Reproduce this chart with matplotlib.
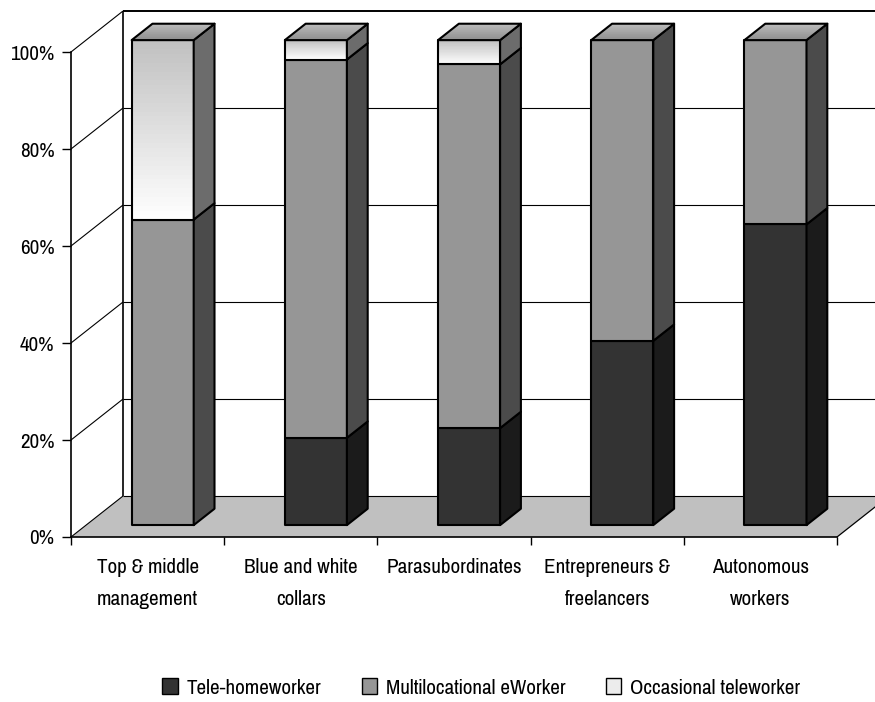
import numpy as np
import matplotlib
matplotlib.use("Agg")
import matplotlib.pyplot as plt
from matplotlib.patches import Polygon, Patch
from matplotlib.lines import Line2D
from matplotlib.colors import to_rgb

plt.rcParams['font.family'] = ['Pragati Narrow', 'Liberation Sans', 'DejaVu Sans']

# ---- data -------------------------------------------------------------
categories = ["Top & middle\nmanagement", "Blue and white\ncollars",
              "Parasubordinates", "Entrepreneurs &\nfreelancers",
              "Autonomous\nworkers"]
tele_homeworker = [0, 18, 20, 38, 62]
multilocational = [63, 78, 75, 62, 38]
occasional = [37, 4, 5, 0, 0]
series_names = ["Tele-homeworker", "Multilocational eWorker", "Occasional teleworker"]
y_ticks = [0, 20, 40, 60, 80, 100]

# ---- styling ------------------------------------------------------------
# front / side / top colours; tuples are (start, end) of a gradient
face_styles = [
    dict(front='#333333', side='#1b1b1b', top=('#222222', '#3a3a3a')),
    dict(front='#969696', side='#4b4b4b', top=('#8c8c8c', '#bcbcbc')),
    dict(front=('#ffffff', '#c0c0c0'), side='#6c6c6c', top=('#8c8c8c', '#bcbcbc')),
]
legend_colors = ['#333333', '#969696', '#ececec']

DX, DY = 0.3394, 8.45      # oblique depth vector (category units, percent units)
D0, D1 = 0.29, 0.69        # depth span occupied by the bars
BAR_W = 0.405
EDGE_LW = 1.5
N_CAT = len(categories)
FS = 16.5

fig = plt.figure(figsize=(8.75, 7.02), dpi=100)
ax = fig.add_axes([71 / 875, 165 / 702, 766 / 875, 485 / 702])
ax.set_xlim(0, N_CAT)
ax.set_ylim(0, 100)
ax.patch.set_alpha(0)


def proj(x, y, d):
    return (x + d * DX, y + d * DY)


def line(pts, lw=0.8, color='black', z=1):
    xs, ys = zip(*pts)
    ax.add_line(Line2D(xs, ys, lw=lw, color=color, zorder=z,
                       clip_on=False, solid_capstyle='butt'))


def lerp(c0, c1, t):
    a, b = np.array(to_rgb(c0)), np.array(to_rgb(c1))
    return tuple(a + (b - a) * t)


def face(corners, color, z, n=40):
    """Fill a quad (p0 p1 p2 p3); a colour tuple fades from edge p0-p1 to edge p3-p2."""
    p0, p1, p2, p3 = [np.array(c, float) for c in corners]
    if isinstance(color, tuple):
        for k in range(n):
            t0, t1 = k / n, (k + 1) / n
            strip = [p0 + (p3 - p0) * t0, p1 + (p2 - p1) * t0,
                     p1 + (p2 - p1) * t1, p0 + (p3 - p0) * t1]
            ax.add_patch(Polygon(strip, closed=True, facecolor=lerp(*color, (k + 0.5) / n),
                                 edgecolor='none', antialiased=False,
                                 zorder=z, clip_on=False))
        fc = 'none'
    else:
        fc = color
    ax.add_patch(Polygon([p0, p1, p2, p3], closed=True, facecolor=fc,
                         edgecolor='black', lw=EDGE_LW, joinstyle='round',
                         zorder=z + 0.01, clip_on=False))


# ---- walls and floor -----------------------------------------------------
floor = [proj(0, 0, 0), proj(N_CAT, 0, 0), proj(N_CAT, 0, 1), proj(0, 0, 1)]
ax.add_patch(Polygon(floor, closed=True, facecolor='#c0c0c0', edgecolor='none',
                     zorder=0.5, clip_on=False))
line([proj(N_CAT, 0, 0), proj(N_CAT, 0, 1)], lw=0.9, z=0.6)
for v in y_ticks:
    line([proj(0, v, 0), proj(0, v, 1)], lw=0.8, z=0.6)
    line([proj(0, v, 1), proj(N_CAT, v, 1)], lw=1.4 if v == 100 else 0.8, z=0.6)
line([proj(0, 0, 1), proj(0, 100, 1)], lw=1.2, z=0.6)

# ---- bars ------------------------------------------------------------------
series = [tele_homeworker, multilocational, occasional]
for i in range(N_CAT):
    xl = i + 0.5 - BAR_W / 2
    xr = i + 0.5 + BAR_W / 2
    base = 0.0
    segs = [(s[i], face_styles[k]) for k, s in enumerate(series) if s[i] > 0]
    for j, (val, st) in enumerate(segs):
        y0, y1 = base, base + val
        z = 3 + i + j * 0.1
        face([proj(xl, y0, D0), proj(xr, y0, D0), proj(xr, y1, D0), proj(xl, y1, D0)],
             st['front'], z)
        face([proj(xr, y0, D0), proj(xr, y0, D1), proj(xr, y1, D1), proj(xr, y1, D0)],
             st['side'], z + 0.02)
        if j == len(segs) - 1:
            face([proj(xl, y1, D0), proj(xr, y1, D0), proj(xr, y1, D1), proj(xl, y1, D1)],
                 st['top'], z + 0.04)
        base = y1

# ---- axes, ticks, labels ----------------------------------------------------
for s in ('top', 'right'):
    ax.spines[s].set_visible(False)
for s in ('left', 'bottom'):
    ax.spines[s].set_linewidth(1.2)
    ax.spines[s].set_zorder(2)

ax.set_yticks(y_ticks)
ax.set_yticklabels([f"{v}%" for v in y_ticks])
ax.tick_params(axis='y', length=6.5, width=1, pad=5.5, labelsize=FS)

ax.set_xticks(range(N_CAT + 1))
ax.set_xticklabels([])
ax.set_xticks(np.arange(N_CAT) + 0.5, minor=True)
ax.set_xticklabels(categories, minor=True)
ax.tick_params(axis='x', which='major', length=5.8, width=1)
ax.tick_params(axis='x', which='minor', length=0, pad=15, labelsize=FS)
for t in ax.get_xticklabels(minor=True):
    t.set_linespacing(1.85)

handles = [Patch(facecolor=c, edgecolor='black', lw=1) for c in legend_colors]
fig.legend(handles, series_names, loc='center', bbox_to_anchor=(0.55, 0.02),
           ncol=3, frameon=False, fontsize=FS, handlelength=0.66, handleheight=0.66,
           handletextpad=0.4, columnspacing=1.75, borderaxespad=0)

fig.savefig("out.png", dpi=100)
